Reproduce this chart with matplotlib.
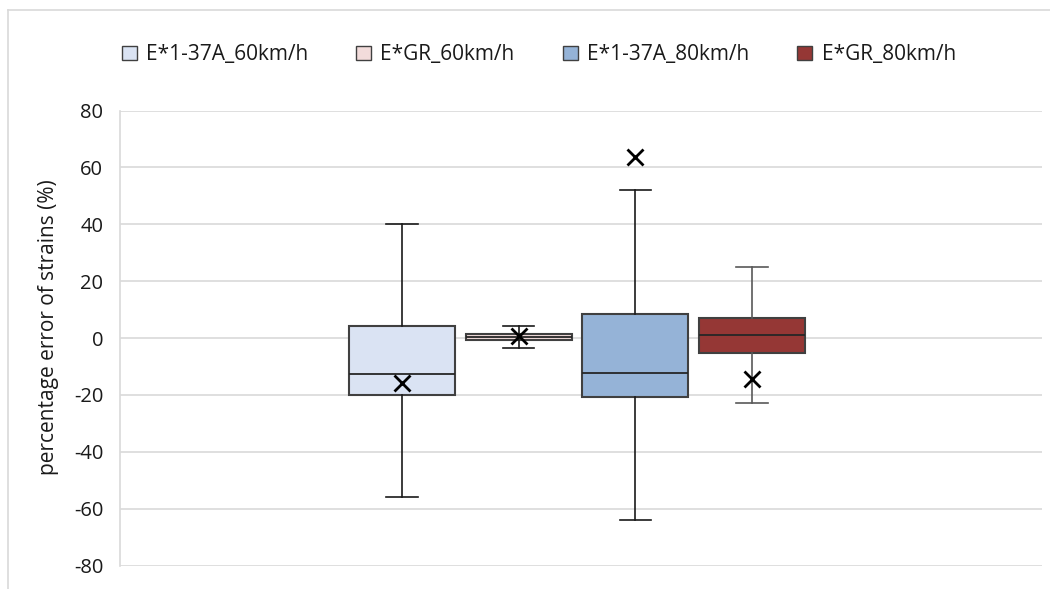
import matplotlib.pyplot as plt
from matplotlib.patches import Patch
from matplotlib.lines import Line2D

plt.rcParams['font.family'] = ['Open Sans', 'DejaVu Sans']

# data
labels = ["E*1-37A_60km/h", "E*GR_60km/h", "E*1-37A_80km/h", "E*GR_80km/h"]
whis_lo = [-56.0, -3.5, -64.0, -23.0]
q1 = [-19.9, -0.7, -20.8, -5.3]
median = [-12.7, 0.5, -12.4, 0.9]
q3 = [4.3, 1.4, 8.6, 7.0]
whis_hi = [40.0, 4.3, 52.0, 25.0]
means = [-15.8, 0.8, 63.5, -14.5]
colors = ["#DAE3F3", "#F2DCDB", "#95B3D7", "#953735"]
yticks = [-80, -60, -40, -20, 0, 20, 40, 60, 80]

fig = plt.figure(figsize=(10.5, 5.89), dpi=100)
ax = fig.add_axes([120 / 1050, 23.5 / 589, 922 / 1050, 455 / 589])

stats = []
for i in range(len(labels)):
    stats.append(dict(med=median[i], q1=q1[i], q3=q3[i], whislo=whis_lo[i],
                      whishi=whis_hi[i], mean=means[i], fliers=[]))

pos = list(range(len(labels)))
bp = ax.bxp(stats, positions=pos, widths=0.91, capwidths=0.27, patch_artist=True,
            showmeans=True, showfliers=False,
            meanprops=dict(marker="x", markersize=11, markeredgewidth=2,
                           markeredgecolor="black"),
            medianprops=dict(color="#262626", lw=1.3),
            whiskerprops=dict(color="#1a1a1a", lw=1.2),
            capprops=dict(color="#1a1a1a", lw=1.2),
            boxprops=dict(edgecolor="#404040", lw=1.5))
for patch, c in zip(bp["boxes"], colors):
    patch.set_facecolor(c)
    patch.set_zorder(2)
for ln in bp["whiskers"][6:] + bp["caps"][6:]:
    ln.set_color("#595959")
for ln in bp["means"]:
    ln.set_zorder(4)

ax.set_xlim(-2.416, 5.484)
ax.set_ylim(-80, 80)
ax.set_yticks(yticks)
ax.set_yticklabels([str(t) for t in yticks])
ax.set_xticks([])
ax.tick_params(axis="y", length=0, pad=12, labelsize=14.5, labelcolor="#1a1a1a")
ax.grid(axis="y", color="#D9D9D9", lw=1.2)
ax.set_axisbelow(True)
for s in ["top", "right", "bottom"]:
    ax.spines[s].set_visible(False)
ax.spines["left"].set_color("#D9D9D9")
ax.spines["left"].set_linewidth(1.2)
ax.set_ylabel("percentage error of strains (%)", fontsize=15, color="#1a1a1a")
ax.yaxis.set_label_coords(-0.066, 0.523)

handles = [Patch(facecolor=c, edgecolor="#404040", lw=1.0) for c in colors]
fig.legend(handles, labels, loc="center", bbox_to_anchor=(0.513, 0.907), ncol=4,
           frameon=False, fontsize=15, handlelength=0.72, handleheight=0.72,
           handletextpad=0.45, columnspacing=2.3, labelcolor="#1a1a1a")

# outer chart border
fig.add_artist(Line2D([8 / 1050, 1], [1 - 10 / 589, 1 - 10 / 589], color="#D9D9D9", lw=1.2))
fig.add_artist(Line2D([8 / 1050, 8 / 1050], [0, 1 - 10 / 589], color="#D9D9D9", lw=1.2))

fig.savefig("out.png", dpi=100)
